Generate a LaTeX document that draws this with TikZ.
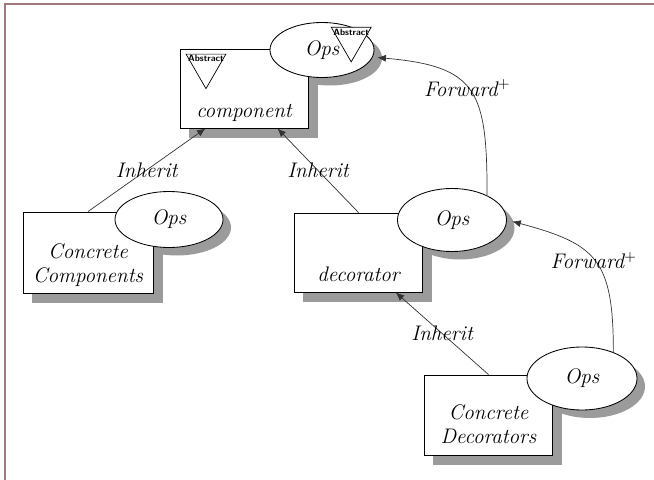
\documentclass[tikz,border=0pt]{standalone}
\usepackage{tikz}
\usetikzlibrary{arrows,arrows.meta,shapes,positioning,shadows}

\pgfdeclarelayer{background}
\pgfsetlayers{background,main}

\definecolor{framecol}{RGB}{160,120,125}
\definecolor{shadowgray}{RGB}{155,155,155}

\begin{document}
\begin{tikzpicture}[x=0.025cm, y=0.025cm,
		basic/.style    = {draw, line width=0.6pt, fill=white},
		classbox/.style = {basic, rectangle, minimum width=3.2cm, minimum height=1.975cm},
		opsnode/.style  = {basic, ellipse, inner sep=0pt, font=\fontsize{15}{17}\selectfont\itshape},
		boxtext/.style  = {inner sep=0pt, text depth=0pt, align=center, font=\fontsize{15}{17}\selectfont\itshape},
		abstri/.style   = {draw, fill=white, line width=0.5pt, regular polygon, regular polygon sides=3, shape border rotate=180, minimum size=1.15cm, inner sep=0pt},
		abstext/.style  = {inner sep=0pt, font=\sffamily\bfseries\fontsize{6.5}{6.5}\selectfont},
		lbl/.style      = {font=\fontsize{15}{17}\selectfont\itshape},
		link/.style     = {->, draw=black!80, line width=0.5pt},
		>={Latex[length=6pt,width=5pt]}]

		\useasboundingbox (0,0) rectangle (654,-480);
		\draw[framecol, line width=1.4pt] (5,-480) -- (5,-4) -- (654,-4);

		% the abstract component and its operations
		\node[classbox] (comp) at (244,-88.5) {};
		\node[boxtext, above=0.27cm of comp.south] (comptext) {component};
		\node[opsnode, minimum width=2.6cm, minimum height=1.375cm] (compops) at (322,-50) {Ops};

		% the concrete classes, boxes first, then their operations
		\node[classbox, minimum width=3.25cm, minimum height=2.025cm] (cc) at (88,-252.5) {};
		\node[boxtext, above=0.27cm of cc.south] (cctext) {Concrete\\Components};
		\node[opsnode, minimum width=2.7cm, minimum height=1.4cm] (ccops) at (169,-219.5) {Ops};

		\node[classbox] (dec) at (358.5,-252.5) {};
		\node[boxtext, above=0.27cm of dec.south] (dectext) {decorator};
		\node[opsnode, minimum width=2.725cm, minimum height=1.575cm] (decops) at (452,-220) {Ops};

		\node[classbox, minimum height=2cm] (cd) at (488.5,-415) {};
		\node[boxtext, above=0.3cm of cd.south] (cdtext) {Concrete\\Decorators};
		\node[opsnode, minimum width=2.75cm, minimum height=1.575cm] (cdops) at (582,-378.5) {Ops};

		% abstract markers
		\node[abstri, anchor=north] (comptri) at ([xshift=0.66cm, yshift=-0.13cm]comp.north west) {};
		\node[abstext, below=1pt of comptri.north] (comptritext) {Abstract};
		\node[abstri, anchor=north] (opstri) at ([xshift=0.73cm, yshift=0.575cm]compops.center) {};
		\node[abstext, below=1pt of opstri.north] (opstritext) {Abstract};

		% shadows behind everything
		\begin{pgfonlayer}{background}
		\foreach \n in {comp,cc,dec,cd}
		\fill[shadowgray] ([shift={(0.23cm,-0.24cm)}]\n.south west) rectangle ([shift={(0.23cm,-0.24cm)}]\n.north east);
		\foreach \n/\rx/\ry in {compops/52/27.5, ccops/54/28, decops/54.5/31.5, cdops/55/31.5}
		\fill[shadowgray] ([shift={(0.2cm,-0.2cm)}]\n.center) ellipse [x radius=\rx, y radius=\ry];
		\end{pgfonlayer}

		% inheritance
		\draw[link] (cc.north) -- node[lbl] {Inherit} (comp.226);
		\draw[link] (dec.north) -- node[lbl] {Inherit} (comp.310);
		\draw[link] (cd.north) -- node[lbl] {Inherit} (dec.313);

		% forwarding
		\draw[link, shorten >=0.12cm] (decops.35) to[out=90, in=-5, looseness=1.5] node[lbl, pos=0.52] {Forward$^+$} (compops.-8);
		\draw[link, shorten >=0.14cm] (cdops.40) to[out=90, in=-15, looseness=1.4] node[lbl] {Forward$^+$} (decops.east);

\end{tikzpicture}
\end{document}
